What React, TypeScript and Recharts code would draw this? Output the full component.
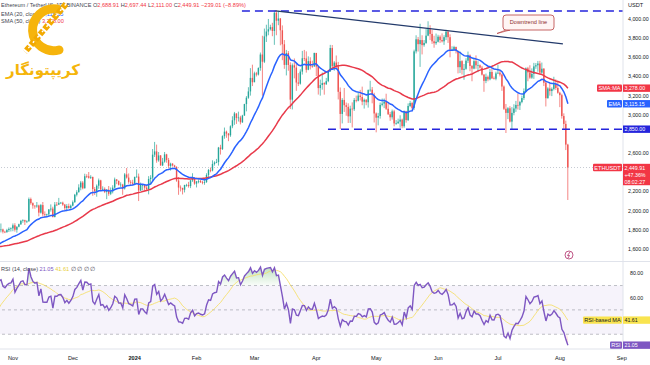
import React from 'react';
import { Area, Bar, ComposedChart, Line, ReferenceArea, ReferenceDot, ReferenceLine, XAxis, YAxis } from 'recharts';

const GREEN = '#26a69a';
const RED = '#ef5350';
const TAG_RED = '#f23645';
const BLUE = '#2962ff';
const LEVEL_BLUE = '#2424dc';
const TREND = '#233a6b';
const PURPLE = '#7e57c2';
const YELLOW = '#f5dd5e';
const INK = '#434651';
const AXIS = '#e0e3eb';
const FONT = '"Liberation Sans", Arial, sans-serif';
const FS = 5.6;
const AXIS_FS = 5.3;

// closes before the visible range (Sep 1 – Oct 24, 2023), used only to warm up EMA / SMA / RSI
const prevCloses = [
  1628, 1635, 1637, 1628, 1632, 1635, 1645, 1635, 1634, 1617, 1553, 1594, 1608, 1627, 1642, 1636, 1623, 1645, 1643, 1623,
  1584, 1593, 1593, 1582, 1588, 1594, 1601, 1655, 1669, 1671,
  1733, 1663, 1656, 1647, 1611, 1646, 1632, 1633, 1580, 1567, 1565, 1540, 1553, 1555, 1557, 1600, 1565, 1565, 1566, 1604,
  1627, 1660, 1781, 1787,
];

// daily candles Oct 25, 2023 – Aug 5, 2024 (open = previous close, 24/7 market)
const closes = [
  1796, 1804, 1780, 1775, 1797, 1810, 1815,
  1847, 1801, 1832, 1858, 1893, 1900, 1886, 1888, 2121, 2078, 2053, 2044, 2054, 1979, 2058, 1962, 1961, 1961, 2012, 2021,
  1933, 2063, 2062, 2081, 2083, 2063, 2027, 2048, 2028, 2052,
  2088, 2166, 2192, 2242, 2293, 2233, 2359, 2358, 2343, 2352, 2225, 2202, 2260, 2316, 2220, 2227, 2196, 2218, 2176, 2201,
  2240, 2325, 2311, 2270, 2272, 2231, 2378, 2345, 2300, 2292, 2281,
  2352, 2355, 2210, 2268, 2268, 2240, 2222, 2330, 2344, 2584, 2618, 2524, 2576, 2472, 2511, 2587, 2529, 2467, 2490, 2471,
  2456, 2314, 2241, 2236, 2218, 2267, 2268, 2256, 2316, 2343, 2282,
  2304, 2309, 2296, 2290, 2298, 2372, 2423, 2419, 2487, 2502, 2507, 2658, 2642, 2777, 2824, 2803, 2786, 2880, 2943, 3014,
  2967, 2972, 2922, 2992, 3112, 3178, 3244, 3385, 3340,
  3433, 3420, 3488, 3629, 3554, 3818, 3869, 3893, 3915, 3875, 4065, 3982, 4005, 3882, 3736, 3521, 3644, 3520, 3158, 3517,
  3493, 3337, 3325, 3451, 3590, 3588, 3470, 3560, 3508, 3506, 3645,
  3504, 3279, 3311, 3331, 3318, 3351, 3452, 3697, 3506, 3545, 3505, 3240, 3009, 3155, 3100, 3083, 2984, 3064, 3058, 3155,
  3147, 3201, 3186, 3137, 3156, 3131, 3258, 3262, 3209, 3014,
  2970, 2988, 3103, 3117, 3137, 3063, 3006, 2974, 3036, 2910, 2912, 2929, 2950, 2881, 3036, 2945, 3092, 3123, 3072, 3662,
  3788, 3737, 3780, 3727, 3750, 3826, 3893, 3844, 3767, 3747, 3762,
  3815, 3780, 3767, 3810, 3866, 3810, 3679, 3680, 3707, 3667, 3497, 3560, 3469, 3480, 3565, 3620, 3510, 3482, 3560, 3516,
  3517, 3492, 3419, 3354, 3396, 3370, 3447, 3380, 3376, 3432,
  3439, 3420, 3295, 3063, 3020, 3068, 2929, 3020, 3066, 3103, 3097, 3133, 3175, 3247, 3485, 3443, 3388, 3427, 3505, 3517,
  3535, 3440, 3481, 3335, 3173, 3275, 3248, 3270, 3320, 3280, 3230,
  3205, 2987, 2905, 2688.91, 2449.91,
];

const highs = [
  1816, 1866, 1812, 1790, 1810, 1825, 1825,
  1866, 1869, 1836, 1864, 1903, 1910, 1905, 1900, 2137, 2136, 2086, 2055, 2090, 2062, 2070, 2090, 1992, 1968, 2017, 2065,
  2041, 2090, 2090, 2133, 2091, 2094, 2070, 2068, 2073, 2064,
  2106, 2175, 2213, 2275, 2310, 2309, 2385, 2380, 2403, 2370, 2354, 2246, 2274, 2335, 2322, 2254, 2243, 2225, 2257, 2242,
  2265, 2345, 2330, 2313, 2296, 2280, 2392, 2445, 2388, 2318, 2322,
  2354, 2430, 2387, 2293, 2278, 2275, 2272, 2360, 2370, 2643, 2717, 2689, 2612, 2580, 2550, 2612, 2593, 2550, 2500, 2495,
  2478, 2463, 2350, 2263, 2240, 2270, 2280, 2300, 2320, 2390, 2350,
  2310, 2325, 2320, 2310, 2337, 2390, 2435, 2450, 2525, 2515, 2540, 2665, 2687, 2786, 2867, 2835, 2810, 2890, 2985, 3030,
  3015, 3033, 2990, 3000, 3115, 3195, 3288, 3487, 3523,
  3450, 3448, 3495, 3650, 3825, 3900, 3940, 4000, 3940, 3960, 4087, 4093, 4085, 4010, 3933, 3780, 3677, 3665, 3548, 3536,
  3588, 3540, 3435, 3475, 3667, 3677, 3662, 3610, 3600, 3565, 3649,
  3647, 3510, 3367, 3441, 3340, 3385, 3465, 3730, 3728, 3560, 3619, 3552, 3285, 3174, 3280, 3128, 3120, 3095, 3130, 3175,
  3200, 3240, 3260, 3294, 3170, 3165, 3265, 3355, 3290, 3230,
  3025, 3020, 3128, 3170, 3170, 3220, 3130, 3030, 3055, 3052, 2945, 2960, 2995, 2960, 3045, 3041, 3119, 3145, 3135, 3680,
  3830, 3812, 3950, 3830, 3780, 3895, 3976, 3935, 3885, 3825, 3848,
  3835, 3830, 3850, 3830, 3887, 3877, 3840, 3715, 3720, 3712, 3670, 3660, 3570, 3530, 3590, 3660, 3630, 3520, 3590, 3620,
  3560, 3525, 3510, 3425, 3430, 3410, 3480, 3490, 3400, 3450,
  3525, 3465, 3430, 3306, 3113, 3080, 3090, 3080, 3110, 3145, 3220, 3145, 3200, 3275, 3495, 3500, 3517, 3485, 3542, 3540,
  3562, 3563, 3545, 3487, 3345, 3288, 3330, 3286, 3397, 3370, 3350,
  3240, 3220, 3015, 2939, 2697.44,
];

const lows = [
  1763, 1773, 1762, 1765, 1770, 1777, 1782,
  1785, 1781, 1770, 1826, 1850, 1874, 1850, 1870, 1886, 2062, 2020, 2020, 2030, 1940, 1969, 1938, 1931, 1936, 1940, 1990,
  1930, 1930, 2048, 2058, 2070, 2050, 2000, 1993, 2020, 2019,
  2045, 2082, 2148, 2189, 2212, 2222, 2231, 2340, 2334, 2330, 2155, 2163, 2145, 2228, 2216, 2212, 2183, 2120, 2155, 2162,
  2180, 2230, 2276, 2262, 2245, 2165, 2220, 2334, 2281, 2268, 2265,
  2266, 2345, 2100, 2204, 2213, 2208, 2210, 2170, 2270, 2300, 2560, 2500, 2510, 2468, 2465, 2500, 2500, 2440, 2418, 2460,
  2452, 2301, 2165, 2200, 2169, 2190, 2250, 2240, 2235, 2300, 2270,
  2242, 2285, 2290, 2275, 2270, 2290, 2350, 2400, 2410, 2470, 2495, 2470, 2585, 2633, 2750, 2760, 2725, 2770, 2860, 2895,
  2905, 2930, 2900, 2915, 2990, 3036, 3167, 3200, 3300,
  3340, 3400, 3410, 3460, 3200, 3540, 3760, 3830, 3880, 3820, 3730, 3830, 3935, 3725, 3570, 3480, 3411, 3460, 3060, 3056,
  3380, 3250, 3300, 3315, 3420, 3560, 3440, 3465, 3473, 3490, 3500,
  3405, 3211, 3200, 3262, 3210, 3313, 3340, 3451, 3490, 3460, 3480, 3160, 2852, 2910, 3030, 2990, 2915, 2915, 2868, 3040,
  3130, 3140, 3150, 3100, 3065, 3100, 3075, 3240, 3120, 2920,
  2817, 2890, 2960, 3088, 3070, 3050, 2998, 2937, 2950, 2880, 2895, 2905, 2865, 2860, 2865, 2918, 2935, 3080, 3055, 3052,
  3640, 3660, 3500, 3630, 3710, 3740, 3820, 3780, 3740, 3700, 3730,
  3755, 3750, 3755, 3730, 3780, 3750, 3600, 3665, 3670, 3640, 3432, 3435, 3420, 3365, 3470, 3540, 3455, 3350, 3475, 3480,
  3445, 3482, 3410, 3240, 3330, 3350, 3360, 3375, 3370, 3360,
  3425, 3400, 3250, 3050, 2810, 2955, 2920, 2845, 2995, 3030, 3055, 3050, 3120, 3155, 3235, 3350, 3375, 3375, 3375, 3480,
  3450, 3420, 3420, 3300, 3087, 3170, 3200, 3195, 3255, 3260, 3220,
  3080, 2960, 2852, 2632, 2111,
];

// day index of the first candle, counted from Nov 1, 2023
const FIRST_DAY = -7;
const MONTH_TICKS = [0, 30, 61, 92, 121, 152, 182, 213, 243, 274, 305];
const MONTH_LABELS = ['Nov', 'Dec', '2024', 'Feb', 'Mar', 'Apr', 'May', 'Jun', 'Jul', 'Aug', 'Sep'];
const PRICE_TICKS = [1600, 1800, 2000, 2200, 2600, 3000, 3200, 3400, 3600, 3800, 4000];
const RSI_TICKS = [60, 80];

// drawn levels
const RESIST = { from: 114.7, price: 4083 };
const SUPPORT = { from: 157.8, price: 2850 };
const TREND_LINE = [{ x: 131.5, y: 4085 }, { x: 275.5, y: 3740 }];

// values printed in the legend / price scale
const LAST = { o: '2,688.91', h: '2,697.44', l: '2,111.00', c: '2,449.91', chg: '−239.01 (−8.89%)' };
const LAST_PRICE = 2449.91;
const LAST_EMA = 3115.15;
const LAST_SMA = 3278.0;
const LAST_RSI = 21.05;
const LAST_RSI_MA = 41.61;

const X_MIN = -6.5;
const X_MAX = 305.6;
const P_MIN = 1464;
const P_MAX = 4198;
const R_MIN = 17.9;
const R_MAX = 89.3;

function emaOf(src: number[], n: number) {
  const k = 2 / (n + 1);
  const out: number[] = [];
  let e = src[0];
  src.forEach((v, i) => {
    e = i === 0 ? v : v * k + e * (1 - k);
    out.push(e);
  });
  return out;
}

function smaOf(src: (number | null)[], n: number) {
  return src.map((_, i) => {
    if (i < n - 1) return null;
    let s = 0;
    for (let j = i - n + 1; j <= i; j++) {
      if (src[j] == null) return null;
      s += src[j] as number;
    }
    return s / n;
  });
}

function rsiOf(src: number[], n: number) {
  const out: (number | null)[] = src.map(() => null);
  let ag = 0;
  let al = 0;
  for (let i = 1; i < src.length; i++) {
    const ch = src[i] - src[i - 1];
    const g = Math.max(ch, 0);
    const lo = Math.max(-ch, 0);
    if (i <= n) {
      ag += g / n;
      al += lo / n;
    } else {
      ag = (ag * (n - 1) + g) / n;
      al = (al * (n - 1) + lo) / n;
    }
    if (i >= n) out[i] = al === 0 ? 100 : 100 - 100 / (1 + ag / al);
  }
  return out;
}

const allCloses = [...prevCloses, ...closes];
const OFF = prevCloses.length;
const emaArr = emaOf(allCloses, 20);
const smaArr = smaOf(allCloses, 50);
const rsiArr = rsiOf(allCloses, 14);
const rsiMaArr = smaOf(rsiArr, 14);

const rows = closes.map((c, i) => {
  const k = OFF + i;
  const o = allCloses[k - 1];
  const h = Math.max(highs[i], o, c);
  const l = Math.min(lows[i], o, c);
  const r = rsiArr[k] as number;
  return {
    d: FIRST_DAY + i,
    o,
    h,
    l,
    c,
    range: [l, h],
    ema: emaArr[k],
    sma: smaArr[k],
    rsi: r,
    rsiMa: rsiMaArr[k],
    ob: [70, Math.max(70, r)],
    os: [Math.min(30, r), 30],
  };
});

const fmt = (v: number) => v.toLocaleString('en-US', { minimumFractionDigits: 2, maximumFractionDigits: 2 });

function Candle(props: any) {
  const { x, y, width, height, payload } = props;
  if (!payload || x == null || y == null) return null;
  const top = Math.min(y, y + height);
  const hgt = Math.abs(height);
  const { o, h, l, c } = payload;
  const span = h - l || 1;
  const py = (v: number) => top + ((h - v) / span) * hgt;
  const cx = x + width / 2;
  const col = c >= o ? GREEN : RED;
  const b1 = py(Math.max(o, c));
  const b2 = py(Math.min(o, c));
  return (
    <g>
      <line x1={cx} x2={cx} y1={top} y2={top + hgt} stroke={col} strokeWidth={0.7} />
      <rect x={cx - 0.7} y={b1} width={1.4} height={Math.max(0.7, b2 - b1)} fill={col} />
    </g>
  );
}

function TagShape(p: any) {
  const { cx, cy, tagName, nameW = 0, value, bg, fg = '#fff', extra = [] } = p;
  if (cx == null || cy == null) return null;
  const h = 7.4;
  return (
    <g>
      {tagName ? (
        <g>
          <rect x={cx - 1 - nameW} y={cy - h / 2} width={nameW} height={h} rx={1} fill={bg} />
          <text x={cx - 1 - nameW / 2} y={cy + 2} textAnchor="middle" fontSize={FS} fontFamily={FONT} fill={fg}>
            {tagName}
          </text>
        </g>
      ) : null}
      <rect x={cx} y={cy - h / 2} width={27} height={h + extra.length * 7} fill={bg} />
      <text x={cx + 1.5} y={cy + 2} fontSize={AXIS_FS} fontFamily={FONT} fill={fg}>
        {value}
      </text>
      {extra.map((t: string, i: number) => (
        <text key={i} x={cx + 1.5} y={cy + 2 + 7 * (i + 1)} fontSize={AXIS_FS} fontFamily={FONT} fill={fg}>
          {t}
        </text>
      ))}
    </g>
  );
}

function MonthTick(props: any) {
  const { x, y, payload } = props;
  const label = MONTH_LABELS[MONTH_TICKS.indexOf(payload.value)];
  return (
    <text x={x} y={y + 8.5} textAnchor="middle" fontSize={FS} fontFamily={FONT} fill="#131722" fontWeight={label === '2024' ? 700 : 400}>
      {label}
    </text>
  );
}

const axisTick = { fontSize: AXIS_FS, fill: '#131722', fontFamily: FONT };

function PriceChart() {
  return (
    <ComposedChart width={650} height={262} data={rows} margin={{ top: 0, right: 0, bottom: 0, left: 0 }}>
      <XAxis type="number" dataKey="d" domain={[X_MIN, X_MAX]} allowDataOverflow hide />
      <YAxis
        orientation="right"
        domain={[P_MIN, P_MAX]}
        allowDataOverflow
        ticks={PRICE_TICKS}
        interval={0}
        width={27}
        tick={axisTick}
        tickFormatter={fmt}
        tickLine={false}
        tickSize={0}
        tickMargin={5}
        axisLine={{ stroke: AXIS }}
      />
      <ReferenceLine y={LAST_PRICE} stroke="#b8bcc6" strokeDasharray="1 2" strokeWidth={0.8} />
      <Bar dataKey="range" barSize={2} shape={(p: any) => <Candle {...p} />} isAnimationActive={false} />
      <Line type="linear" dataKey="sma" stroke="#e8394a" strokeWidth={1.5} dot={false} isAnimationActive={false} />
      <Line type="linear" dataKey="ema" stroke={BLUE} strokeWidth={1.5} dot={false} isAnimationActive={false} />
      <ReferenceLine
        segment={[{ x: RESIST.from, y: RESIST.price }, { x: X_MAX, y: RESIST.price }]}
        stroke={LEVEL_BLUE}
        strokeWidth={1.6}
        strokeDasharray="8 5"
      />
      <ReferenceLine
        segment={[{ x: SUPPORT.from, y: SUPPORT.price }, { x: X_MAX, y: SUPPORT.price }]}
        stroke={LEVEL_BLUE}
        strokeWidth={1.6}
        strokeDasharray="8 5"
      />
      <ReferenceLine segment={TREND_LINE} stroke={TREND} strokeWidth={1.3} />
      <ReferenceDot x={X_MAX} y={LAST_SMA} ifOverflow="visible" shape={(p: any) => <TagShape {...p} tagName="SMA:MA" nameW={25} value={fmt(LAST_SMA)} bg={TAG_RED} />} />
      <ReferenceDot x={X_MAX} y={LAST_EMA} ifOverflow="visible" shape={(p: any) => <TagShape {...p} tagName="EMA" nameW={15} value={fmt(LAST_EMA)} bg={BLUE} />} />
      <ReferenceDot x={X_MAX} y={SUPPORT.price} ifOverflow="visible" shape={(p: any) => <TagShape {...p} value={fmt(SUPPORT.price)} bg={LEVEL_BLUE} />} />
      <ReferenceDot
        x={X_MAX}
        y={LAST_PRICE}
        ifOverflow="visible"
        shape={(p: any) => <TagShape {...p} tagName="ETHUSDT" nameW={29} value={fmt(LAST_PRICE)} bg={TAG_RED} extra={['+47.36%', '08:02:27']} />}
      />
    </ComposedChart>
  );
}

function RsiChart() {
  return (
    <ComposedChart width={650} height={103} data={rows} margin={{ top: 0, right: 0, bottom: 0, left: 0 }}>
      <defs>
        <linearGradient id="obFill" x1="0" y1="0" x2="0" y2="1">
          <stop offset="0%" stopColor="#4caf50" stopOpacity={0.6} />
          <stop offset="100%" stopColor="#4caf50" stopOpacity={0.05} />
        </linearGradient>
        <linearGradient id="osFill" x1="0" y1="0" x2="0" y2="1">
          <stop offset="0%" stopColor="#f23645" stopOpacity={0.05} />
          <stop offset="100%" stopColor="#f23645" stopOpacity={0.5} />
        </linearGradient>
      </defs>
      <XAxis
        type="number"
        dataKey="d"
        domain={[X_MIN, X_MAX]}
        allowDataOverflow
        ticks={MONTH_TICKS}
        interval={0}
        height={16}
        tick={<MonthTick />}
        tickLine={false}
        tickSize={0}
        axisLine={{ stroke: AXIS }}
      />
      <YAxis
        orientation="right"
        domain={[R_MIN, R_MAX]}
        allowDataOverflow
        ticks={RSI_TICKS}
        interval={0}
        width={27}
        tick={axisTick}
        tickFormatter={(v: number) => v.toFixed(2)}
        tickLine={false}
        tickSize={0}
        tickMargin={7}
        axisLine={{ stroke: AXIS }}
      />
      <ReferenceArea y1={30} y2={70} fill={PURPLE} fillOpacity={0.07} stroke="none" />
      <ReferenceLine y={70} stroke="#9598a1" strokeDasharray="3 3" strokeWidth={0.6} />
      <ReferenceLine y={50} stroke="#9598a1" strokeDasharray="3 3" strokeWidth={0.6} />
      <ReferenceLine y={30} stroke="#9598a1" strokeDasharray="3 3" strokeWidth={0.6} />
      <Area type="linear" dataKey="ob" fill="url(#obFill)" stroke="none" isAnimationActive={false} />
      <Area type="linear" dataKey="os" fill="url(#osFill)" stroke="none" isAnimationActive={false} />
      <Line type="linear" dataKey="rsiMa" stroke={YELLOW} strokeWidth={1} strokeOpacity={0.8} dot={false} isAnimationActive={false} />
      <Line type="linear" dataKey="rsi" stroke={PURPLE} strokeWidth={1.4} dot={false} isAnimationActive={false} />
      <ReferenceDot
        x={X_MAX}
        y={LAST_RSI_MA}
        ifOverflow="visible"
        shape={(p: any) => <TagShape {...p} tagName="RSI-based MA" nameW={39} value={LAST_RSI_MA.toFixed(2)} bg="#f9e44f" fg="#131722" />}
      />
      <ReferenceDot x={X_MAX} y={LAST_RSI} ifOverflow="visible" shape={(p: any) => <TagShape {...p} tagName="RSI" nameW={12} value={LAST_RSI.toFixed(2)} bg={PURPLE} />} />
    </ComposedChart>
  );
}

function Overlay() {
  const t = { fontSize: FS, fontFamily: FONT, fill: INK };
  return (
    <svg width={650} height={365} style={{ position: 'absolute', left: 0, top: 0, pointerEvents: 'none' }}>
      <line x1={0} x2={650} y1={261.5} y2={261.5} stroke={AXIS} strokeWidth={1} />
      <text x={1} y={7} {...t}>
        Ethereum / TetherUS, 1D, BINANCE <tspan>O</tspan>
        <tspan fill={TAG_RED}>{LAST.o}</tspan> <tspan>H</tspan>
        <tspan fill={TAG_RED}>{LAST.h}</tspan> <tspan>L</tspan>
        <tspan fill={TAG_RED}>{LAST.l}</tspan> <tspan>C</tspan>
        <tspan fill={TAG_RED}>{LAST.c}</tspan> <tspan fill={TAG_RED}>{LAST.chg}</tspan>
      </text>
      <text x={1} y={15.5} {...t}>
        EMA (20, close) <tspan fill={BLUE}>{fmt(LAST_EMA)}</tspan>
      </text>
      <text x={1} y={23} {...t}>
        SMA (50, close) <tspan fill={TAG_RED}>{fmt(LAST_SMA)}</tspan>
      </text>
      <text x={628} y={7} {...t} fill="#131722">
        USDT
      </text>

      {/* logo */}
      <g>
        <path d="M 57 9 A 21 21 0 1 0 59 50" fill="none" stroke="#f6b40c" strokeWidth={9} strokeLinecap="round" />
        <line x1={66} y1={4} x2={25} y2={52} stroke="#f2a900" strokeWidth={6} strokeDasharray="5 2" />
        <line x1={66} y1={4} x2={25} y2={52} stroke="#fff" strokeWidth={1.4} strokeDasharray="2 5" />
        <text x={43} y={75} textAnchor="middle" fontSize={15} fontWeight={700} fontFamily='"DejaVu Sans", sans-serif' fill="#f5b50a">
          کریپتونگار
        </text>
      </g>

      {/* callout */}
      <g>
        <path d="M 506 30 L 497 33.5 L 510 30 Z" fill="#fff5f4" stroke="#b84040" strokeWidth={0.7} />
        <rect x={503} y={15} width={51} height={15} rx={3} fill="#fff5f4" stroke="#b84040" strokeWidth={0.8} />
        <text x={528.5} y={24.3} textAnchor="middle" fontSize={FS} fontFamily={FONT} fill="#8c2d2d">
          Downtrend line
        </text>
      </g>

      {/* lightning icon */}
      <g>
        <circle cx={569} cy={255} r={4} fill="#fff" stroke="#b0306a" strokeWidth={0.8} />
        <path d="M 570 252 L 567.5 255.5 L 569.5 255.5 L 568 258" fill="none" stroke="#b0306a" strokeWidth={0.8} />
      </g>

      <text x={1} y={271} {...t}>
        RSI (14, close) <tspan fill={PURPLE}>{LAST_RSI.toFixed(2)}</tspan> <tspan fill="#e8cf3a">{LAST_RSI_MA.toFixed(2)}</tspan> ∅ ∅ ∅ ∅
      </text>
    </svg>
  );
}

export default function App() {
  return (
    <div style={{ position: 'absolute', left: 0, top: 0, width: 650, height: 365, background: '#fff', overflow: 'hidden' }}>
      <PriceChart />
      <div style={{ position: 'absolute', left: 0, top: 262 }}>
        <RsiChart />
      </div>
      <Overlay />
    </div>
  );
}
